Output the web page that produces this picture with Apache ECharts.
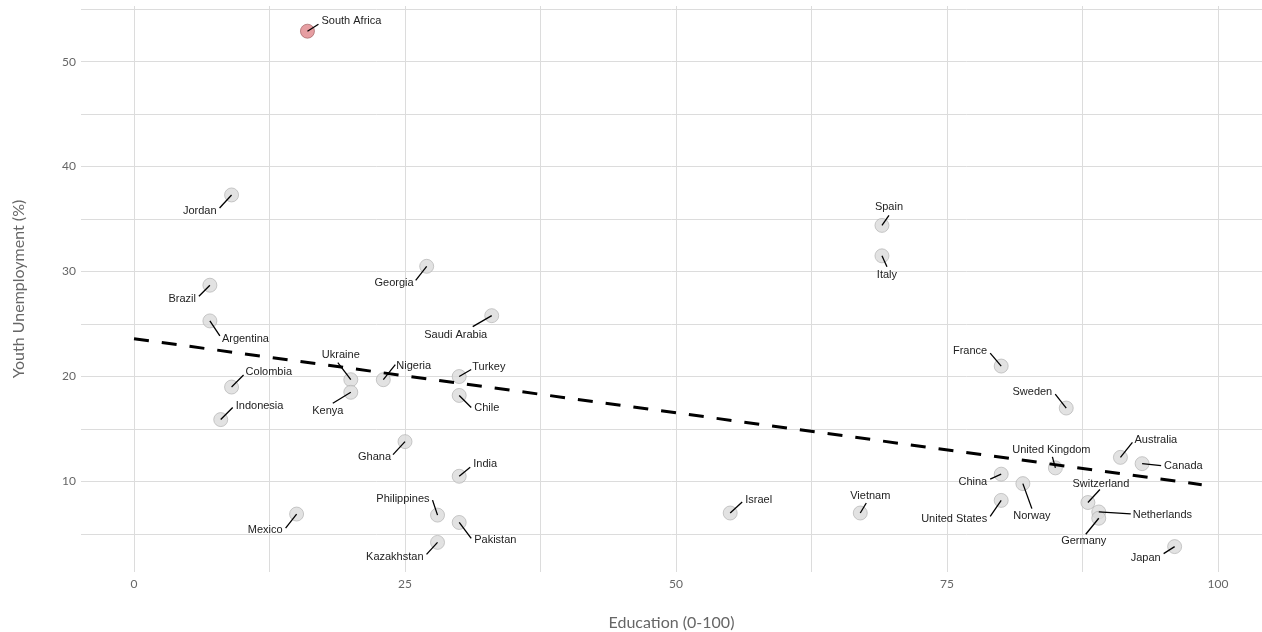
<!DOCTYPE html>
<html>
<head>
<meta charset="utf-8">
<script src="https://cdn.jsdelivr.net/npm/echarts@6/dist/echarts.min.js"></script>
<style>
html,body{margin:0;padding:0;background:#fff;}
#chart{width:1262px;height:632px;}
</style>
</head>
<body>
<div id="chart"></div>
<script>
// ---- data ----
const countries = ['South Africa','Jordan','Brazil','Argentina','Georgia','Saudi Arabia','Colombia','Indonesia','Ukraine','Kenya','Nigeria','Ghana','Mexico','Philippines','Kazakhstan','Turkey','Chile','India','Pakistan','Israel','Spain','Italy','France','Sweden','United Kingdom','China','Norway','United States','Vietnam','Australia','Canada','Switzerland','Netherlands','Germany','Japan'];
const education = [16,9,7,7,27,33,9,8,20,20,23,25,15,28,28,30,30,30,30,55,69,69,80,86,85,80,82,80,67,91,93,88,89,89,96];
const unemployment = [52.9,37.3,28.7,25.3,30.5,25.8,19.0,15.9,19.7,18.5,19.7,13.8,6.9,6.8,4.2,20.0,18.2,10.5,6.1,7.0,34.4,31.5,21.0,17.0,11.3,10.7,9.8,8.2,7.0,12.3,11.7,8.0,7.1,6.5,3.8];
const highlighted = ['South Africa'];
const trendX = [0, 98.5];
const trendY = [23.6, 9.7];
const xTicks = [0, 25, 50, 75, 100];
const yTicks = [10, 20, 30, 40, 50];
const xGrid = [0, 12.5, 25, 37.5, 50, 62.5, 75, 87.5, 100];
const yGrid = [5, 10, 15, 20, 25, 30, 35, 40, 45, 50, 55];

// ---- label layout (pixel offsets from the point: lineEnd dx,dy, text dx,dy, align) ----
const labelLayout = {
  'South Africa':[11,-7,14,-10,'left'],
  'Jordan':[-12,13,-15,16,'right'],
  'Brazil':[-11,11,-14,14,'right'],
  'Argentina':[10,15,12,18,'left'],
  'Georgia':[-11,14,-13,17,'right'],
  'Saudi Arabia':[-19,11,-36,19,'center'],
  'Colombia':[12,-12,14,-15,'left'],
  'Indonesia':[12,-12,15,-14,'left'],
  'Ukraine':[-13,-17,-10,-25,'center'],
  'Kenya':[-18,11,-23,19,'center'],
  'Nigeria':[12,-15,13,-14,'left'],
  'Ghana':[-12,13,-14,15,'right'],
  'Mexico':[-11,14,-14,16,'right'],
  'Philippines':[-5,-15,-8,-16,'right'],
  'Kazakhstan':[-11,12,-14,15,'right'],
  'Turkey':[12,-7,13,-10,'left'],
  'Chile':[12,12,15,13,'left'],
  'India':[11,-9,14,-12,'left'],
  'Pakistan':[12,16,15,18,'left'],
  'Israel':[12,-11,15,-13,'left'],
  'Spain':[7,-10,7,-18,'center'],
  'Italy':[5,11,5,19,'center'],
  'France':[-11,-13,-14,-15,'right'],
  'Sweden':[-11,-14,-14,-16,'right'],
  'United Kingdom':[-3,-11,-4,-18,'center'],
  'China':[-11,5,-14,8,'right'],
  'Norway':[9,25,9,32,'center'],
  'United States':[-11,16,-14,19,'right'],
  'Vietnam':[6,-10,10,-17,'center'],
  'Australia':[12,-15,14,-17,'left'],
  'Canada':[19,2,22,2,'left'],
  'Switzerland':[12,-13,13,-19,'center'],
  'Netherlands':[32,2,34,3,'left'],
  'Germany':[-13,16,-15,23,'center'],
  'Japan':[-11,7,-14,11,'right']
};

const points = countries.map((c, i) => ({
  value: [education[i], unemployment[i], c],
  itemStyle: highlighted.includes(c)
    ? {color: '#e0868b', borderColor: '#9a5a5c', borderWidth: 0.8}
    : {color: '#dbdbdb', borderColor: '#adadad', borderWidth: 0.8}
}));

const gridStyle = {color: '#dcdcdc', width: 1, type: 'solid'};
const chart = echarts.init(document.getElementById('chart'));
chart.setOption({
  animation: false,
  backgroundColor: '#fff',
  grid: {left: 81, right: 0, top: 6, bottom: 60, containLabel: false, outerBoundsMode: 'none'},
  xAxis: {
    type: 'value', min: -4.89, max: 104.06,
    name: 'Education (0-100)', nameLocation: 'middle', nameGap: 43,
    nameTextStyle: {fontFamily: 'Lato', fontSize: 16, color: '#666'},
    axisLine: {show: false}, axisTick: {show: false}, splitLine: {show: false},
    axisLabel: {customValues: xTicks, margin: 6, fontFamily: 'Lato', fontSize: 12, color: '#666'}
  },
  yAxis: {
    type: 'value', min: 1.38, max: 55.3,
    name: 'Youth Unemployment (%)', nameLocation: 'middle', nameGap: 54,
    nameTextStyle: {fontFamily: 'Lato', fontSize: 16, color: '#666'},
    axisLine: {show: false}, axisTick: {show: false}, splitLine: {show: false},
    axisLabel: {customValues: yTicks, margin: 5, fontFamily: 'Lato', fontSize: 12, color: '#666'}
  },
  series: [
    {
      type: 'line', data: [], silent: true, z: 0,
      markLine: {
        z: 0, silent: true, symbol: 'none', label: {show: false}, lineStyle: gridStyle,
        emphasis: {disabled: true},
        data: xGrid.map(v => ({xAxis: v})).concat(yGrid.map(v => ({yAxis: v})))
      }
    },
    {
      type: 'scatter', z: 2, symbol: 'circle', symbolSize: 14,
      data: points
    },
    {
      type: 'line', z: 3, silent: true, symbol: 'none',
      data: trendX.map((x, i) => [x, trendY[i]]),
      lineStyle: {color: '#000', width: 3, type: [15, 13], cap: 'butt'}
    },
    {
      type: 'custom', z: 4, silent: true,
      data: countries.map((c, i) => [education[i], unemployment[i], i]),
      renderItem: function (params, api) {
        const i = api.value(2);
        const name = countries[i];
        const p = api.coord([api.value(0), api.value(1)]);
        const L = labelLayout[name];
        return {
          type: 'group',
          children: [
            {type: 'line', shape: {x1: p[0], y1: p[1], x2: p[0] + L[0], y2: p[1] + L[1]},
             style: {stroke: '#000', lineWidth: 1.3}},
            {type: 'text', style: {text: name, x: p[0] + L[2], y: p[1] + L[3], align: L[4], verticalAlign: 'middle',
             font: '11px "Liberation Sans", Arial, sans-serif', fill: '#222'}}
          ]
        };
      }
    }
  ]
});
</script>
</body>
</html>
